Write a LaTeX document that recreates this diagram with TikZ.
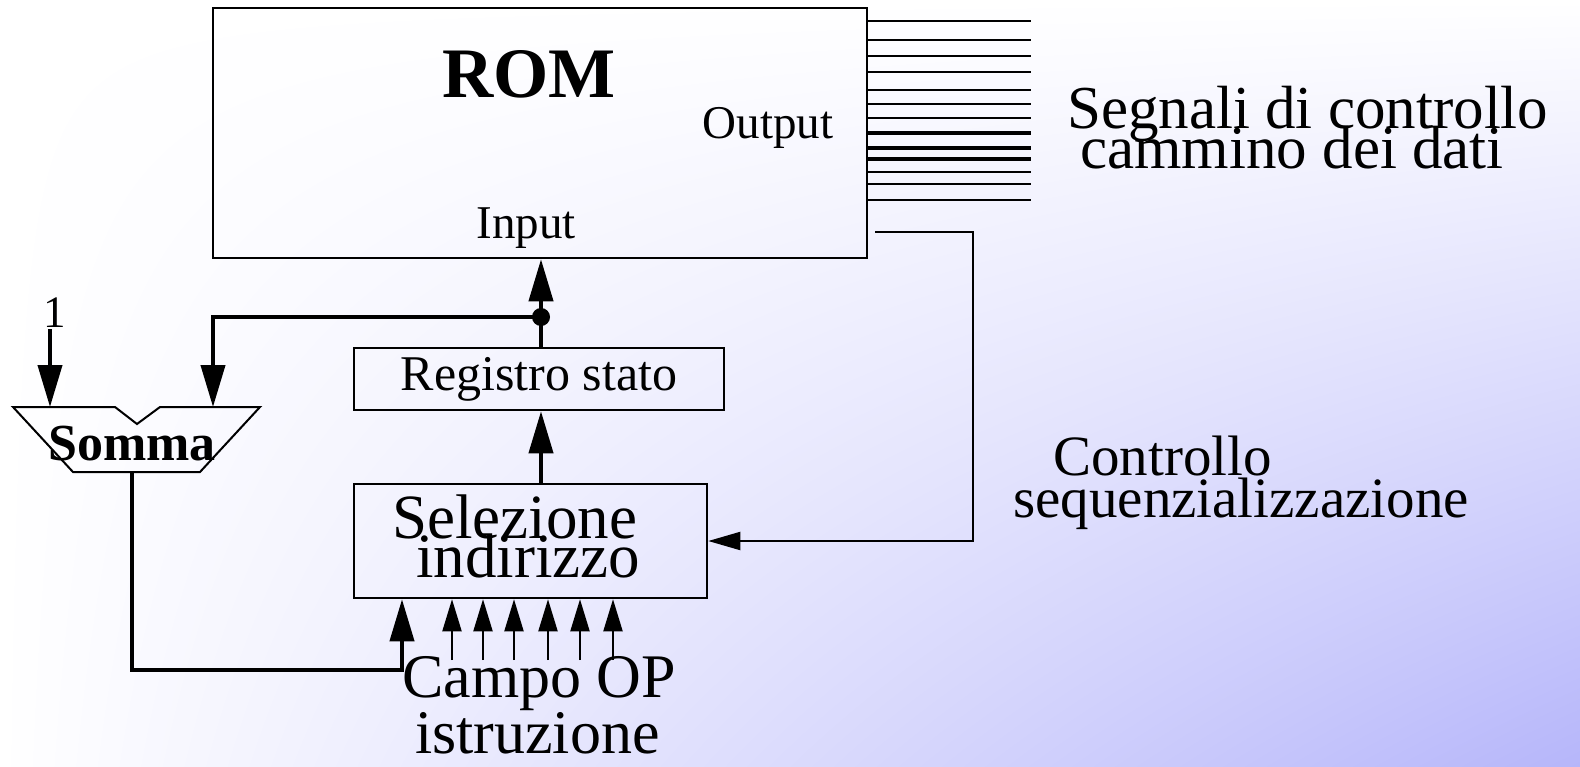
\documentclass[tikz,border=0pt]{standalone}
\usepackage{fontspec}
\setmainfont{Liberation Serif}
\usetikzlibrary{arrows.meta, shadings}
\definecolor{lavender}{RGB}{182,182,250}
\newcommand{\fsz}[2]{\fontsize{#1}{#2}\selectfont\lineskiplimit=-500pt\relax}

\begin{document}
\begin{tikzpicture}[
    x=1pt, y=-1pt,
    every node/.style={inner sep=0pt},
    box/.style={draw, line width=2.5pt, rectangle},
    bus/.style={line width=4pt},
    wire/.style={line width=2pt},
    bigtip/.style={-{Triangle[length=42pt,width=24pt]}},
    smalltip/.style={-{Triangle[length=32pt,width=19pt]}}
]

% ================= background =================

\useasboundingbox (0,0) rectangle (1580,766);
\shade[upper left=white, upper right=white, lower left=white, lower right=lavender]
    (0,0) rectangle (1580,766);

% ================= ROM =================

\node[box, minimum width=654, minimum height=250] (rom) at (540,133) {};
\node[font=\fsz{71}{71}\bfseries, anchor=base] (romt) at (529,97) {ROM};
\node[font=\fsz{47}{47}, anchor=base] (inp) at (526,238) {Input};
\node[font=\fsz{47}{47}, anchor=base] (outp) at (768,138) {Output};

\coordinate (sig) at (1031,0);
\foreach \y in {21,40,56,72,90,104,118,172,184,200}
    \draw[wire] (rom.east |- 0,\y) -- (sig |- 0,\y);
\foreach \y in {133,148,159}
    \draw[bus] (rom.east |- 0,\y) -- (sig |- 0,\y);

% base = baseline of the last line
\node[font=\fsz{61}{40}, align=left, anchor=base west] (segn) at (1067,168)
    {Segnali di controllo\\\hspace*{13pt}cammino dei dati};

% ================= Registro stato / Selezione =================

\node[box, minimum width=370, minimum height=62, font=\fsz{50}{50}] (reg) at (539,379) {Registro stato};
\node[box, minimum width=353, minimum height=114] (sel) at (530.5,541) {};
\node[font=\fsz{63}{39}, align=left, anchor=base west] (selt) at (392,577)
    {Selezione\\\hspace*{24pt}indirizzo};

\coordinate (j) at (541,317);
\draw[bus, bigtip] (reg.north -| j) -- (rom.south -| j);
\draw[bus, bigtip] (sel.north -| j) -- (reg.south -| j);
\fill (j) circle (9);

% ================= Somma =================

\draw[wire] (13,407) -- (115,407) -- (137,424) -- (160,407) -- (260,407)
    -- (200,472) -- (73,472) -- cycle;
\node[font=\fsz{52}{52}\bfseries, anchor=base] (somma) at (132,460) {Somma};
\coordinate (in1) at (50,407);
\coordinate (in2) at (213,407);
\coordinate (sout) at (132,472);
\node[font=\fsz{45}{45}, anchor=base, inner sep=2pt] (one) at (55,327) {1};

\draw[bus, bigtip] (one.south -| in1) -- (in1);
\draw[bus, bigtip] (j) -| (in2);
\draw[bus, bigtip] (sout) |- (402,670) -- (sel.south -| 402,0);

% ================= Campo OP =================

\node[font=\fsz{62}{56}, align=left, anchor=base west] (campo) at (402,753)
    {Campo OP\\\hspace*{13pt}istruzione};
\foreach \x in {452,483,514,548,580,613}
    \draw[wire, smalltip] (\x,660) -- (sel.south -| \x,0);

% ================= Controllo sequenzializzazione =================

\coordinate (ctl) at (875,232);
\draw[wire, -{Triangle[length=32pt,width=18pt]}] (ctl) -- (973,232) |- (sel.east);

\node[font=\fsz{57}{42}, align=left, anchor=base west] (seq) at (1013,517)
    {\hspace*{40pt}Controllo\\sequenzializzazione};

\end{tikzpicture}
\end{document}
